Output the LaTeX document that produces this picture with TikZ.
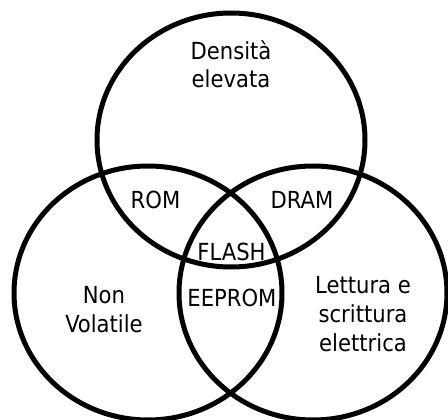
\documentclass[tikz,border=0pt]{standalone}
\usepackage{fontspec}
\setmainfont{DejaVu Sans Condensed}
\usetikzlibrary{shapes.geometric}
\begin{document}
\begin{tikzpicture}[x=1pt,y=-1pt,
  set/.style={draw=black,line width=5pt,ellipse,inner sep=0pt,
    minimum width=268pt,minimum height=254pt},
  lbl/.style={anchor=base,inner sep=0pt,font=\fontsize{23.5}{29}\selectfont}]
\useasboundingbox (0,0) rectangle (448,420);
\clip (0,0) rectangle (448,420);
\node[set] (top) at (231,140) {};
\node[set] (left) at (148,293) {};
\node[set] (right) at (313,293) {};
\node[lbl] (d1) at (231,60) {Densità};
\node[lbl] (d2) at (231,88) {elevata};
\node[lbl] (rom) at (155.5,208) {ROM};
\node[lbl] (dram) at (302,208) {DRAM};
\node[lbl] (flash) at (231.5,261) {FLASH};
\node[lbl] (eeprom) at (232,306) {EEPROM};
\node[lbl] (n1) at (104,303) {Non};
\node[lbl] (n2) at (104,332) {Volatile};
\node[lbl] (l1) at (363,293) {Lettura e};
\node[lbl] (l2) at (363,322) {scrittura};
\node[lbl] (l3) at (363,351) {elettrica};
\end{tikzpicture}
\end{document}
